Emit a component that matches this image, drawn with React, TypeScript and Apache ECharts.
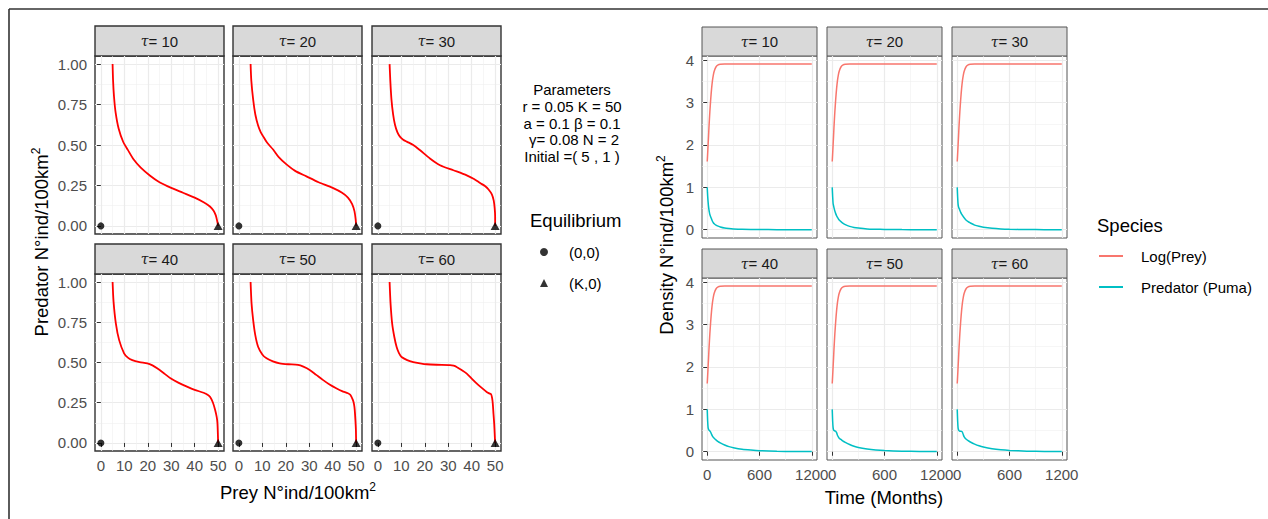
import React, { useEffect, useRef } from "react";
import * as echarts from "echarts";

// ---------- data ----------
const TAU_VALUES = [10, 20, 30, 40, 50, 60];
const K_CAPACITY = 50;
const EQ_ORIGIN = [0, 0];
const EQ_CAPACITY = [K_CAPACITY, 0];

// phase plane (prey, predator)
const PHASE_PREY_T10 = [5, 5.2, 5.6, 6.3, 7.6, 9.5, 11.5, 14, 17, 21, 25, 30, 35, 40, 44, 46.5, 48, 49, 49.6, 50];
const PHASE_PRED_T10 = [1.0, 0.9, 0.8, 0.7, 0.6, 0.52, 0.47, 0.41, 0.36, 0.31, 0.27, 0.235, 0.205, 0.175, 0.145, 0.12, 0.095, 0.065, 0.03, 0];
const PHASE_PREY_T20 = [5, 5.3, 6.1, 7.0, 8.2, 9.3, 10.3, 12, 14.6, 17, 20.3, 24, 28.8, 34, 40, 44, 46.5, 48.3, 49.3, 49.8, 50];
const PHASE_PRED_T20 = [1.0, 0.9, 0.78, 0.69, 0.62, 0.58, 0.555, 0.515, 0.472, 0.425, 0.38, 0.34, 0.306, 0.27, 0.235, 0.205, 0.175, 0.135, 0.09, 0.04, 0];
const PHASE_PREY_T30 = [5, 5.3, 5.8, 6.5, 7.3, 8.3, 9.4, 10.8, 12.3, 15.1, 17.9, 22.2, 26.5, 32.2, 37.9, 41, 43.6, 45.8, 47.2, 48.6, 49.4, 49.8, 50, 50];
const PHASE_PRED_T30 = [1.0, 0.9, 0.78, 0.69, 0.625, 0.58, 0.552, 0.533, 0.521, 0.5, 0.469, 0.417, 0.375, 0.344, 0.3125, 0.29, 0.265, 0.245, 0.225, 0.195, 0.156, 0.11, 0.06, 0];
const PHASE_PREY_T40 = [5, 5.4, 6.4, 7.8, 9.9, 11.5, 13.4, 16.5, 19.8, 22, 24, 27, 29.7, 33, 36.7, 40, 43.8, 45.5, 46.6, 47.8, 48.7, 49.4, 49.7, 49.9, 50];
const PHASE_PRED_T40 = [1.0, 0.88, 0.742, 0.639, 0.557, 0.53, 0.515, 0.503, 0.495, 0.482, 0.464, 0.432, 0.402, 0.375, 0.35, 0.33, 0.312, 0.3, 0.285, 0.25, 0.206, 0.16, 0.124, 0.05, 0];
const PHASE_PREY_T50 = [5, 5.4, 6.1, 7, 8.2, 10, 11.8, 14.5, 17.4, 21, 25.2, 27.5, 30.2, 33, 35.8, 38.5, 41.5, 44, 46.5, 47.5, 48.6, 49.1, 49.4, 49.7, 49.9, 50];
const PHASE_PRED_T50 = [1.0, 0.87, 0.763, 0.67, 0.598, 0.55, 0.526, 0.507, 0.495, 0.489, 0.485, 0.474, 0.454, 0.423, 0.392, 0.365, 0.34, 0.322, 0.309, 0.3, 0.268, 0.24, 0.206, 0.14, 0.082, 0];
const PHASE_PREY_T60 = [5, 5.4, 6.1, 7, 8, 9, 10.1, 12.5, 15.1, 18, 20.8, 25, 30.8, 32.3, 33.6, 35.7, 37.9, 40, 42.2, 44.3, 46.4, 47.5, 48.3, 48.7, 49, 49.3, 49.6, 49.8, 50];
const PHASE_PRED_T60 = [1.0, 0.87, 0.741, 0.66, 0.596, 0.558, 0.534, 0.515, 0.503, 0.495, 0.489, 0.486, 0.484, 0.48, 0.472, 0.453, 0.431, 0.4, 0.369, 0.342, 0.317, 0.308, 0.302, 0.28, 0.244, 0.18, 0.12, 0.06, 0];

// time series
const TIME_MONTHS = [0, 5, 10, 15, 20, 25, 30, 40, 50, 60, 70, 80, 100, 125, 150, 200, 250, 300, 400, 500, 600, 800, 1000, 1200];
const LOG_PREY = [1.61, 1.8, 2.0, 2.2, 2.42, 2.6, 2.78, 3.08, 3.33, 3.52, 3.65, 3.74, 3.84, 3.89, 3.905, 3.91, 3.91, 3.91, 3.91, 3.91, 3.91, 3.91, 3.91, 3.91];
const PRED_T10 = [1.0, 0.8, 0.66, 0.55, 0.47, 0.41, 0.36, 0.3, 0.25, 0.2, 0.165, 0.14, 0.11, 0.085, 0.065, 0.04, 0.028, 0.02, 0.01, 0.006, 0.004, 0.002, 0.001, 0.0005];
const PRED_T20 = [1.0, 0.78, 0.62, 0.57, 0.52, 0.48, 0.44, 0.38, 0.33, 0.29, 0.26, 0.23, 0.19, 0.15, 0.12, 0.08, 0.055, 0.04, 0.02, 0.012, 0.007, 0.003, 0.001, 0.0005];
const PRED_T30 = [1.0, 0.76, 0.6, 0.54, 0.51, 0.49, 0.46, 0.41, 0.37, 0.34, 0.31, 0.28, 0.23, 0.19, 0.16, 0.11, 0.08, 0.06, 0.035, 0.02, 0.012, 0.005, 0.002, 0.001];
const PRED_T40 = [1.0, 0.72, 0.57, 0.53, 0.51, 0.5, 0.49, 0.46, 0.41, 0.37, 0.34, 0.32, 0.28, 0.24, 0.21, 0.16, 0.12, 0.095, 0.06, 0.04, 0.025, 0.012, 0.006, 0.003];
const PRED_T50 = [1.0, 0.72, 0.57, 0.52, 0.5, 0.495, 0.49, 0.485, 0.45, 0.39, 0.35, 0.32, 0.29, 0.25, 0.22, 0.17, 0.13, 0.1, 0.065, 0.042, 0.028, 0.013, 0.006, 0.003];
const PRED_T60 = [1.0, 0.72, 0.56, 0.52, 0.5, 0.49, 0.485, 0.484, 0.482, 0.46, 0.4, 0.35, 0.3, 0.26, 0.23, 0.18, 0.14, 0.11, 0.07, 0.045, 0.03, 0.014, 0.007, 0.003];

// axis ticks
const PREY_TICKS = [0, 10, 20, 30, 40, 50];
const PREY_MINOR = [5, 15, 25, 35, 45];
const PRED_TICKS = [0, 0.25, 0.5, 0.75, 1];
const PRED_MINOR = [0.125, 0.375, 0.625, 0.875];
const TIME_TICKS = [0, 600, 1200];
const TIME_MINOR = [300, 900];
const DENS_TICKS = [0, 1, 2, 3, 4];
const DENS_MINOR = [0.5, 1.5, 2.5, 3.5];

const PARAM_LINES = ["Parameters", "r = 0.05 K = 50", "a = 0.1 β = 0.1", " γ= 0.08 N = 2", "Initial =( 5 , 1 )"];
const SPECIES = ["Log(Prey)", "Predator (Puma)"];
const EQUILIBRIA = ["(0,0)", "(K,0)"];

const PHASE_PREY = [PHASE_PREY_T10, PHASE_PREY_T20, PHASE_PREY_T30, PHASE_PREY_T40, PHASE_PREY_T50, PHASE_PREY_T60];
const PHASE_PRED = [PHASE_PRED_T10, PHASE_PRED_T20, PHASE_PRED_T30, PHASE_PRED_T40, PHASE_PRED_T50, PHASE_PRED_T60];
const PRED_SERIES = [PRED_T10, PRED_T20, PRED_T30, PRED_T40, PRED_T50, PRED_T60];

// ---------- layout ----------
const FONT = '"Liberation Sans", Arial, Helvetica, sans-serif';
const LEFT_COLS = [95, 233, 372];
const LEFT_W = 129;
const LEFT_ROWS = [56, 274];
const LEFT_H = [178, 177];
const LEFT_STRIP = [26, 244];
const RIGHT_COLS = [702, 827, 952];
const RIGHT_W = 115;
const RIGHT_ROWS = [56, 278];
const RIGHT_H = 182;
const RIGHT_STRIP = [27, 249];

const GRID_MAJOR = { color: "#EBEBEB", width: 1.2 };
const GRID_MINOR = { color: "#F0F0F0", width: 0.6 };

function axisPair(
  dim: "x" | "y",
  gridIndex: number,
  min: number,
  max: number,
  major: number[],
  minor: number[],
  showLabels: boolean,
  fmt: (v: number) => string
) {
  const main: any = {
    type: "value",
    gridIndex,
    min,
    max,
    position: dim === "x" ? "bottom" : "left",
    axisLine: { show: false },
    axisTick: { show: showLabels, customValues: major, length: 4, lineStyle: { color: "#333", width: 1 } },
    axisLabel: {
      show: showLabels,
      customValues: major,
      formatter: fmt,
      color: "#4D4D4D",
      fontSize: 15,
      fontFamily: FONT,
      margin: dim === "x" ? 7 : 8,
    },
    splitLine: { show: true, lineStyle: GRID_MAJOR },
  };
  const sec: any = {
    type: "value",
    gridIndex,
    min,
    max,
    position: dim === "x" ? "top" : "right",
    axisLine: { show: false },
    axisTick: { show: false, customValues: minor },
    axisLabel: { show: false, customValues: minor },
    splitLine: { show: true, lineStyle: GRID_MINOR },
  };
  return [main, sec];
}

function buildOption() {
  const grid: any[] = [];
  const xAxis: any[] = [];
  const yAxis: any[] = [];
  const series: any[] = [];
  const graphic: any[] = [];

  const stripText = (tau: number) => `{t|τ}= ${tau}`;
  const stripRich = { t: { fontStyle: "italic", fontFamily: '"DejaVu Serif", serif', fontSize: 14, fill: "#1A1A1A" } };

  // left phase panels
  TAU_VALUES.forEach((tau, i) => {
    const r = Math.floor(i / 3);
    const c = i % 3;
    const gi = grid.length;
    grid.push({
      left: LEFT_COLS[c],
      top: LEFT_ROWS[r],
      width: LEFT_W,
      height: LEFT_H[r],
      show: true,
      backgroundColor: "#fff",
      borderColor: "#333",
      borderWidth: 1.4,
    });
    xAxis.push(...axisPair("x", gi, -2.5, 52.5, PREY_TICKS, PREY_MINOR, r === 1, (v) => String(v)));
    yAxis.push(...axisPair("y", gi, -0.05, 1.05, PRED_TICKS, PRED_MINOR, c === 0, (v) => v.toFixed(2)));
    const ax = gi * 2;
    series.push({
      type: "line",
      name: "phase" + tau,
      xAxisIndex: ax,
      yAxisIndex: ax,
      data: PHASE_PREY[i].map((x, k) => [x, PHASE_PRED[i][k]]),
      showSymbol: false,
      smooth: 0.25,
      lineStyle: { color: "#FF0000", width: 1.8 },
      itemStyle: { color: "#FF0000" },
      z: 3,
    });
    series.push({
      type: "scatter",
      name: EQUILIBRIA[0],
      xAxisIndex: ax,
      yAxisIndex: ax,
      data: [EQ_ORIGIN],
      symbol: "circle",
      symbolSize: 7,
      itemStyle: { color: "#000" },
      z: 4,
    });
    series.push({
      type: "scatter",
      name: EQUILIBRIA[1],
      xAxisIndex: ax,
      yAxisIndex: ax,
      data: [EQ_CAPACITY],
      symbol: "triangle",
      symbolSize: [9, 8],
      itemStyle: { color: "#000" },
      z: 4,
    });
    graphic.push({
      type: "rect",
      shape: { x: LEFT_COLS[c], y: LEFT_STRIP[r], width: LEFT_W, height: LEFT_ROWS[r] - LEFT_STRIP[r] },
      style: { fill: "#D9D9D9", stroke: "#333", lineWidth: 1.4 },
    });
    graphic.push({
      type: "text",
      x: LEFT_COLS[c] + LEFT_W / 2,
      y: (LEFT_STRIP[r] + LEFT_ROWS[r]) / 2,
      style: {
        text: stripText(tau),
        rich: stripRich,
        fontSize: 15,
        fontFamily: FONT,
        fill: "#1A1A1A",
        align: "center",
        verticalAlign: "middle",
      },
    });
  });

  // right time panels
  TAU_VALUES.forEach((tau, i) => {
    const r = Math.floor(i / 3);
    const c = i % 3;
    const gi = grid.length;
    grid.push({
      left: RIGHT_COLS[c],
      top: RIGHT_ROWS[r],
      width: RIGHT_W,
      height: RIGHT_H,
      show: true,
      backgroundColor: "#fff",
      borderColor: "#555",
      borderWidth: 1,
    });
    xAxis.push(...axisPair("x", gi, -60, 1260, TIME_TICKS, TIME_MINOR, r === 1, (v) => String(v)));
    yAxis.push(...axisPair("y", gi, -0.195, 4.1, DENS_TICKS, DENS_MINOR, c === 0, (v) => String(v)));
    const ax = gi * 2;
    series.push({
      type: "line",
      name: SPECIES[0],
      xAxisIndex: ax,
      yAxisIndex: ax,
      data: TIME_MONTHS.map((t, k) => [t, LOG_PREY[k]]),
      showSymbol: false,
      smooth: 0.25,
      lineStyle: { color: "#F8766D", width: 1.5 },
      itemStyle: { color: "#F8766D" },
      z: 3,
    });
    series.push({
      type: "line",
      name: SPECIES[1],
      xAxisIndex: ax,
      yAxisIndex: ax,
      data: TIME_MONTHS.map((t, k) => [t, PRED_SERIES[i][k]]),
      showSymbol: false,
      smooth: 0.25,
      lineStyle: { color: "#00BFC4", width: 1.5 },
      itemStyle: { color: "#00BFC4" },
      z: 3,
    });
    graphic.push({
      type: "rect",
      shape: { x: RIGHT_COLS[c], y: RIGHT_STRIP[r], width: RIGHT_W, height: RIGHT_ROWS[r] - RIGHT_STRIP[r] },
      style: { fill: "#D9D9D9", stroke: "#555", lineWidth: 1 },
    });
    graphic.push({
      type: "text",
      x: RIGHT_COLS[c] + RIGHT_W / 2,
      y: (RIGHT_STRIP[r] + RIGHT_ROWS[r]) / 2,
      style: {
        text: stripText(tau),
        rich: stripRich,
        fontSize: 15,
        fontFamily: FONT,
        fill: "#1A1A1A",
        align: "center",
        verticalAlign: "middle",
      },
    });
  });

  // outer frame
  graphic.push({ type: "line", shape: { x1: 9, y1: 9, x2: 1268, y2: 9 }, style: { stroke: "#333", lineWidth: 1.6 } });
  graphic.push({ type: "line", shape: { x1: 9, y1: 9, x2: 9, y2: 519 }, style: { stroke: "#333", lineWidth: 1.6 } });

  const titleRich = {
    a: { fontSize: 18.5, fontFamily: FONT, fill: "#000", lineHeight: 22 },
    s: { fontSize: 12, fontFamily: FONT, fill: "#000", verticalAlign: "top", lineHeight: 22, padding: [0, 0, 8, 0] },
  };
  graphic.push({
    type: "text",
    x: 298,
    y: 492,
    style: { text: "{a|Prey N°ind/100km}{s|2}", rich: titleRich, align: "center", verticalAlign: "middle" },
  });
  graphic.push({
    type: "text",
    x: 41,
    y: 242,
    rotation: Math.PI / 2,
    style: { text: "{a|Predator N°ind/100km}{s|2}", rich: titleRich, align: "center", verticalAlign: "middle" },
  });
  graphic.push({
    type: "text",
    x: 884,
    y: 497,
    style: { text: "Time (Months)", fontSize: 18.5, fontFamily: FONT, fill: "#000", align: "center", verticalAlign: "middle" },
  });
  graphic.push({
    type: "text",
    x: 666,
    y: 245,
    rotation: Math.PI / 2,
    style: { text: "{a|Density N°ind/100km}{s|2}", rich: titleRich, align: "center", verticalAlign: "middle" },
  });

  // parameters block
  graphic.push({
    type: "text",
    x: 572,
    y: 123,
    style: {
      text: PARAM_LINES.join("\n"),
      fontSize: 15,
      lineHeight: 16.8,
      fontFamily: FONT,
      fill: "#000",
      align: "center",
      verticalAlign: "middle",
    },
  });
  // legend titles
  graphic.push({
    type: "text",
    x: 530,
    y: 220,
    style: { text: "Equilibrium", fontSize: 18.5, fontFamily: FONT, fill: "#000", align: "left", verticalAlign: "middle" },
  });
  graphic.push({
    type: "text",
    x: 1097,
    y: 225,
    style: { text: "Species", fontSize: 18.5, fontFamily: FONT, fill: "#000", align: "left", verticalAlign: "middle" },
  });

  const legend = [
    {
      data: [
        { name: EQUILIBRIA[0], icon: "circle" },
        { name: EQUILIBRIA[1], icon: "triangle" },
      ],
      orient: "vertical",
      left: 535,
      top: 239.5,
      itemWidth: 8,
      itemHeight: 8,
      itemGap: 16,
      selectedMode: false,
      textStyle: { fontSize: 15, fontFamily: FONT, color: "#000", padding: [0, 0, 0, 16] },
    },
    {
      data: SPECIES.map((n) => ({ name: n, icon: "rect" })),
      orient: "vertical",
      left: 1094,
      top: 243.5,
      itemWidth: 24,
      itemHeight: 2,
      itemGap: 16,
      selectedMode: false,
      textStyle: { fontSize: 15, fontFamily: FONT, color: "#000", padding: [0, 0, 0, 13] },
    },
  ];

  return {
    animation: false,
    backgroundColor: "#fff",
    grid,
    xAxis,
    yAxis,
    series,
    graphic,
    legend,
  };
}

export default function App() {
  const ref = useRef<HTMLDivElement>(null);
  useEffect(() => {
    if (!ref.current) return;
    const chart = echarts.init(ref.current, null, { renderer: "svg" });
    chart.setOption(buildOption() as any);
    return () => chart.dispose();
  }, []);
  return <div ref={ref} style={{ position: "absolute", left: 0, top: 0, width: 1268, height: 519 }} />;
}
